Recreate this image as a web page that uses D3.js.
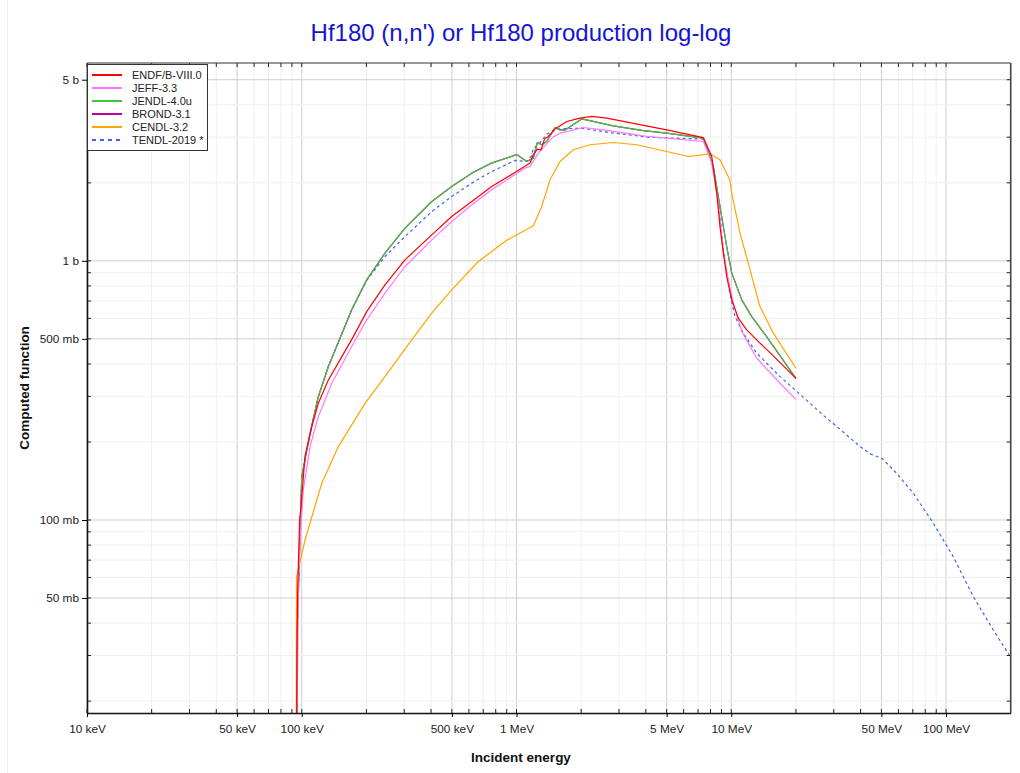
<!DOCTYPE html>
<html><head><meta charset="utf-8">
<script src="https://cdn.jsdelivr.net/npm/d3@7"></script>
<style>body{margin:0;background:#fff}svg{display:block;font-family:"Liberation Sans",Arial,sans-serif}</style>
</head><body><svg id="c" width="1020" height="773"></svg>
<script>
// Energies in MeV, cross sections in barns
const seriesNames = ["ENDF/B-VIII.0","JEFF-3.3","JENDL-4.0u","BROND-3.1","CENDL-3.2","TENDL-2019 *"];
const seriesColors = ["#ff0000","#ff77ff","#3ec43e","#c0009a","#ffa500","#3f66dd"];

const endf = [[0.0938,0.005],[0.0955,0.05],[0.0977,0.1],[0.0992,0.1125],[0.1035,0.1756],[0.1113,0.229],[0.1194,0.282],[0.133,0.347],[0.1507,0.415],[0.1738,0.51],[0.2006,0.637],[0.244,0.808],[0.3025,1.009],[0.403,1.26],[0.499,1.483],[0.619,1.694],[0.766,1.935],[1.0,2.21],[1.156,2.384],[1.197,2.566],[1.25,2.7],[1.3,2.68],[1.35,2.95],[1.406,3.02],[1.511,3.225],[1.713,3.45],[1.976,3.556],[2.24,3.607],[2.63,3.556],[5.0,3.2],[7.41,2.99],[8.11,2.527],[8.555,1.824],[8.86,1.356],[9.19,1.071],[9.52,0.87],[10.05,0.707],[10.78,0.601],[11.8,0.5417],[13.3,0.49],[15.15,0.4426],[20,0.352]];
const jeff = [[0.0938,0.005],[0.0965,0.06],[0.0995,0.1],[0.1017,0.1306],[0.1093,0.192],[0.1194,0.2505],[0.138,0.337],[0.1708,0.467],[0.2006,0.592],[0.244,0.75],[0.3025,0.951],[0.403,1.205],[0.499,1.418],[0.619,1.645],[0.766,1.88],[1.096,2.28],[1.156,2.312],[1.263,2.604],[1.459,2.977],[1.594,3.11],[2.047,3.27],[2.537,3.2],[4.04,3.02],[7.41,2.888],[8.11,2.384],[8.7,1.67],[9.19,1.071],[9.69,0.845],[10.22,0.687],[11.19,0.533],[13.14,0.421],[16.87,0.337],[20,0.292]];
const jendl = [[0.0938,0.005],[0.0945,0.01],[0.0955,0.04],[0.0981,0.086],[0.1,0.147],[0.1093,0.216],[0.1194,0.299],[0.133,0.391],[0.1507,0.503],[0.1708,0.647],[0.2006,0.845],[0.244,1.071],[0.3025,1.337],[0.403,1.694],[0.499,1.935],[0.619,2.18],[0.766,2.384],[1.0,2.57],[1.116,2.417],[1.197,2.49],[1.25,2.862],[1.31,2.805],[1.382,2.888],[1.511,3.27],[1.594,3.2],[1.682,3.2],[2.012,3.53],[2.824,3.32],[3.894,3.18],[5.005,3.11],[7.41,2.977],[8.25,2.312],[8.86,1.621],[9.52,1.136],[10.05,0.897],[11.19,0.707],[12.45,0.609],[14.6,0.51],[20,0.352]];
const brond = jendl.map(d => [d[0], d[1]]);
const cendl = [[0.0938,0.001],[0.0945,0.06],[0.1035,0.0837],[0.1239,0.1385],[0.148,0.192],[0.197,0.282],[0.244,0.3575],[0.325,0.4955],[0.403,0.628],[0.499,0.773],[0.664,0.994],[0.823,1.136],[0.9,1.2],[1.197,1.365],[1.31,1.621],[1.432,2.054],[1.594,2.417],[1.839,2.683],[2.2,2.805],[2.824,2.862],[3.63,2.805],[5.0,2.642],[6.31,2.527],[7.96,2.588],[8.86,2.454],[9.19,2.312],[9.84,2.054],[10.05,1.824],[10.98,1.28],[12.23,0.923],[13.6,0.666],[15.7,0.526],[20,0.385]];
const tendl = [[0.0938,0.005],[0.0945,0.01],[0.0955,0.04],[0.0981,0.086],[0.1,0.147],[0.1093,0.216],[0.1194,0.299],[0.133,0.391],[0.1507,0.503],[0.1708,0.647],[0.2006,0.84],[0.244,1.039],[0.3025,1.241],[0.403,1.55],[0.499,1.77],[0.619,1.995],[0.766,2.21],[0.984,2.44],[1.116,2.417],[1.177,2.544],[1.197,2.72],[1.263,2.805],[1.382,3.08],[1.511,3.225],[2.012,3.25],[2.824,3.11],[3.56,3.047],[4.04,3.0],[7.41,2.95],[8.11,2.45],[8.7,1.7],[9.19,1.1],[9.84,0.75],[10.41,0.609],[11.38,0.526],[13.14,0.44],[16.87,0.3575],[20,0.3156],[27.8,0.247],[30.4,0.2326],[39.8,0.192],[44.3,0.18],[50.2,0.173],[58.9,0.1514],[70.4,0.1268],[87.3,0.0971],[108,0.0722],[134,0.0506],[166,0.0376],[197,0.0301],[200,0.0296]];
const seriesData = [endf, jeff, jendl, brond, cendl, tendl];

const xMajorTicks = [0.01,0.05,0.1,0.5,1,5,10,50,100];
const yMajorTicks = [0.05,0.1,0.5,1,5];
const xDomain = [0.01,200];
const yDomain = [0.018,5.8];

const svg = d3.select("#c");
const L=87, R=1010.7, T=63, B=713;
const x = d3.scaleLog().domain(xDomain).range([L,R]);
const y = d3.scaleLog().domain(yDomain).range([B,T]);

function minorVals(dom){
  const out=[];
  for(let e=-3;e<=3;e++){ for(let m=1;m<=9;m++){ const v=m*Math.pow(10,e); const vv=+v.toPrecision(6); if(vv>=dom[0]*1.0001 && vv<=dom[1]*0.9999) out.push(vv);} }
  return out;
}
const xAll = minorVals(xDomain).concat([0.01]);
const yAll = minorVals(yDomain);
const isMajor = (v, arr) => arr.some(a => Math.abs(a-v)/a < 1e-6);

const fmtE = v => v < 1 ? (+(v*1000).toPrecision(6)) + " keV" : (+v.toPrecision(6)) + " MeV";
const fmtS = v => v < 1 ? (+(v*1000).toPrecision(6)) + " mb" : (+v.toPrecision(6)) + " b";

// faint page border
svg.append("line").attr("x1",7.5).attr("x2",7.5).attr("y1",0).attr("y2",773).attr("stroke","#ececec");

// grid
const g = svg.append("g");
g.selectAll(".gx").data(xAll).join("line")
  .attr("x1",d=>x(d)).attr("x2",d=>x(d)).attr("y1",T).attr("y2",B)
  .attr("stroke",d=>isMajor(d,xMajorTicks)?"#cfcfcf":"#efefef").attr("stroke-width",1);
g.selectAll(".gy").data(yAll).join("line")
  .attr("y1",d=>y(d)).attr("y2",d=>y(d)).attr("x1",L).attr("x2",R)
  .attr("stroke",d=>isMajor(d,yMajorTicks)?"#cfcfcf":"#efefef").attr("stroke-width",1);

// curves
svg.append("defs").append("clipPath").attr("id","clip").append("rect")
  .attr("x",L).attr("y",T).attr("width",R-L).attr("height",B-T);
const line = d3.line().x(d=>x(d[0])).y(d=>y(d[1]));
const cg = svg.append("g").attr("clip-path","url(#clip)");
for(let i=seriesData.length-1;i>=0;i--){
  cg.append("path").datum(seriesData[i]).attr("d",line)
    .attr("fill","none").attr("stroke",seriesColors[i]).attr("stroke-width",1.2)
    .attr("stroke-linejoin","round")
    .attr("stroke-dasharray", i===5 ? "3,3" : null);
}

// axes
const axB = d3.axisBottom(x).tickValues(xMajorTicks).tickFormat(fmtE).tickSizeInner(4).tickSizeOuter(0).tickPadding(8);
const axL = d3.axisLeft(y).tickValues(yMajorTicks).tickFormat(fmtS).tickSizeInner(5).tickSizeOuter(0).tickPadding(3);
const gb = svg.append("g").attr("transform",`translate(0,${B})`).call(axB);
const gl = svg.append("g").attr("transform",`translate(${L},0)`).call(axL);
[gb,gl].forEach(a=>{a.selectAll("text").attr("font-size",11.8).attr("fill","#222").attr("font-family","Liberation Sans, Arial, sans-serif");
  a.select(".domain").attr("stroke","#111").attr("stroke-width",1.6);});
// inner ticks on all four sides
const inner = svg.append("g").attr("stroke","#222").attr("stroke-width",1);
inner.selectAll(".ib").data(xAll).join("line").attr("x1",d=>x(d)).attr("x2",d=>x(d)).attr("y1",B).attr("y2",B-4);
inner.selectAll(".it").data(xAll).join("line").attr("x1",d=>x(d)).attr("x2",d=>x(d)).attr("y1",T).attr("y2",T+4);
inner.selectAll(".il").data(yAll).join("line").attr("y1",d=>y(d)).attr("y2",d=>y(d)).attr("x1",L).attr("x2",L+4);
inner.selectAll(".ir").data(yAll).join("line").attr("y1",d=>y(d)).attr("y2",d=>y(d)).attr("x1",R).attr("x2",R-4);
svg.append("line").attr("x1",L).attr("x2",R).attr("y1",T).attr("y2",T).attr("stroke","#333").attr("stroke-width",1);
svg.append("line").attr("x1",R).attr("x2",R).attr("y1",T).attr("y2",B).attr("stroke","#444").attr("stroke-width",1.6);

// titles
svg.append("text").attr("x",521).attr("y",41).attr("text-anchor","middle").attr("font-size",24)
  .attr("fill","#1414d4").text("Hf180 (n,n') or Hf180 production log-log");
svg.append("text").attr("x",521).attr("y",762).attr("text-anchor","middle").attr("font-size",13.5)
  .attr("font-weight","bold").attr("fill","#111").text("Incident energy");
svg.append("text").attr("transform","translate(29,388) rotate(-90)").attr("text-anchor","middle").attr("font-size",13.5)
  .attr("font-weight","bold").attr("fill","#111").text("Computed function");

// legend
const lg = svg.append("g");
lg.append("rect").attr("x",87.5).attr("y",64.5).attr("width",120).attr("height",86).attr("fill","#fff").attr("stroke","#333");
seriesNames.forEach((n,i)=>{
  const yy = 75 + i*13;
  lg.append("line").attr("x1",92).attr("x2",122).attr("y1",yy).attr("y2",yy)
    .attr("stroke",seriesColors[i]).attr("stroke-width",2).attr("stroke-dasharray", i===5?"4,4":null);
  lg.append("text").attr("x",132).attr("y",yy).attr("dy","0.35em").attr("font-size",11).attr("fill","#222").text(n);
});
</script></body></html>
